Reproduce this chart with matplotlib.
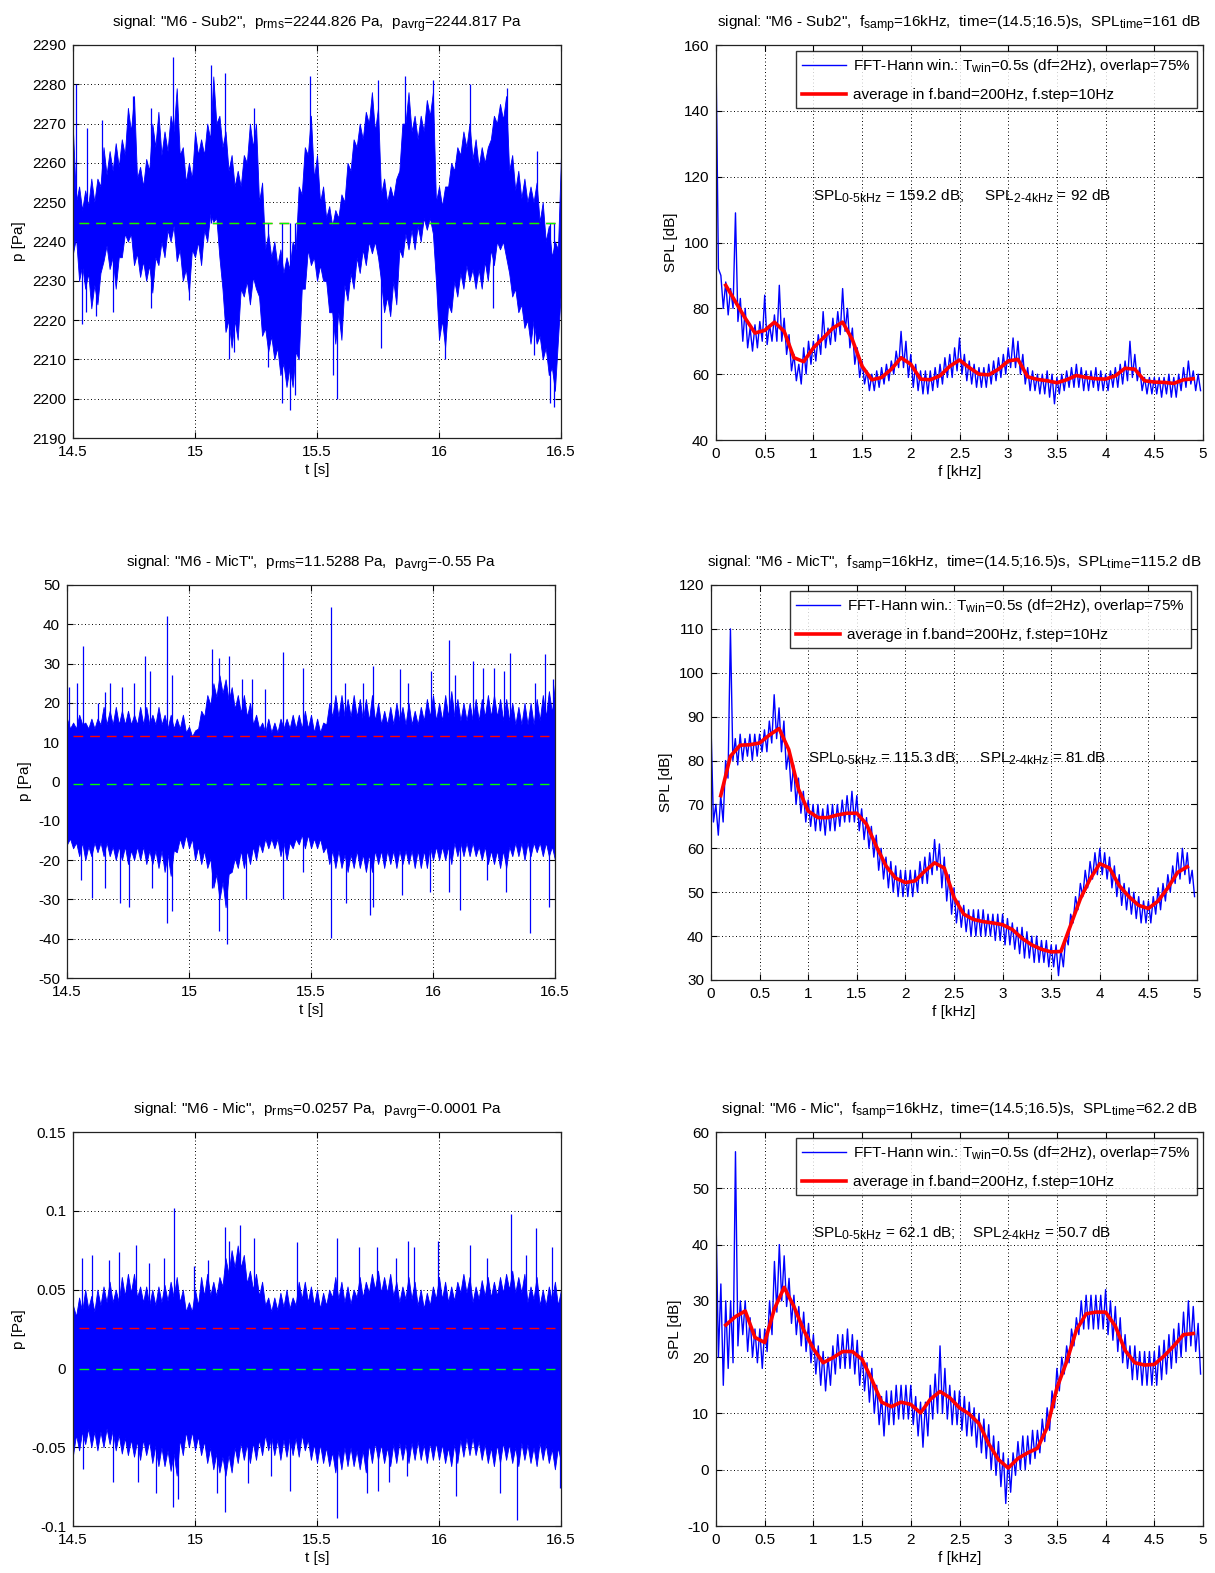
import numpy as np
import matplotlib
matplotlib.use("Agg")
import matplotlib.pyplot as plt
from matplotlib.ticker import FormatStrFormatter

try:
    import matplotlib._mathtext as _mt
    _mt.SHRINK_FACTOR = 0.8   # larger sub/superscripts
except Exception:
    pass

plt.rcParams.update({
    "font.family": ["Liberation Sans", "DejaVu Sans"],
    "font.size": 11,
    "mathtext.fontset": "custom",
    "mathtext.rm": "Liberation Sans",
    "mathtext.it": "Liberation Sans",
    "mathtext.bf": "Liberation Sans:bold",
    "mathtext.default": "regular",
    "axes.unicode_minus": False,
})

# ---------------- time signals ----------------
# peaks / troughs every 25 ms (14.5 .. 16.5 s), valleys in between (at +12.5 ms)
sub2_hi = [
    2268, 2254, 2253, 2256, 2256, 2264, 2263, 2265, 2266, 2274,
    2277, 2259, 2261, 2270, 2273, 2268, 2272, 2279, 2264, 2260,
    2268, 2266, 2270, 2282, 2272, 2268, 2262, 2258, 2262, 2270,
    2270, 2255, 2242, 2240, 2238, 2236, 2240, 2254, 2264, 2272,
    2262, 2254, 2249, 2248, 2252, 2260, 2266, 2270, 2273, 2278,
    2274, 2256, 2254, 2256, 2270, 2278, 2272, 2272, 2276, 2278,
    2254, 2254, 2260, 2264, 2268, 2270, 2266, 2264, 2264, 2272,
    2275, 2277, 2262, 2258, 2256, 2254, 2255, 2250, 2244, 2240,
    2262]
sub2_hi_mid = [
    2250, 2248, 2249, 2250, 2254, 2257, 2258, 2259, 2262, 2268,
    2256, 2254, 2258, 2264, 2262, 2263, 2268, 2262, 2255, 2256,
    2262, 2262, 2266, 2270, 2264, 2258, 2254, 2254, 2260, 2264,
    2250, 2238, 2236, 2234, 2232, 2233, 2238, 2252, 2262, 2256,
    2250, 2246, 2244, 2246, 2250, 2258, 2264, 2266, 2270, 2268,
    2252, 2250, 2251, 2258, 2270, 2268, 2266, 2268, 2272, 2250,
    2249, 2254, 2258, 2262, 2264, 2261, 2259, 2260, 2266, 2270,
    2271, 2258, 2253, 2251, 2250, 2250, 2245, 2240, 2236, 2238]
sub2_lo = [
    2237, 2230, 2228, 2223, 2224, 2235, 2233, 2228, 2236, 2240,
    2234, 2231, 2230, 2227, 2234, 2236, 2240, 2235, 2230, 2227,
    2236, 2234, 2240, 2245, 2236, 2217, 2213, 2215, 2226, 2224,
    2228, 2216, 2212, 2210, 2206, 2203, 2203, 2210, 2228, 2234,
    2230, 2230, 2222, 2214, 2215, 2225, 2228, 2232, 2234, 2237,
    2236, 2222, 2221, 2224, 2236, 2238, 2238, 2240, 2243, 2242,
    2215, 2213, 2222, 2226, 2228, 2230, 2228, 2228, 2230, 2234,
    2238, 2236, 2226, 2222, 2218, 2214, 2214, 2210, 2206, 2202,
    2228]
sub2_lo_mid = [
    2241, 2234, 2232, 2229, 2232, 2239, 2236, 2236, 2242, 2242,
    2237, 2235, 2234, 2236, 2240, 2243, 2244, 2238, 2233, 2238,
    2240, 2243, 2247, 2246, 2228, 2220, 2220, 2228, 2230, 2231,
    2226, 2218, 2216, 2213, 2209, 2208, 2212, 2228, 2238, 2236,
    2234, 2230, 2222, 2222, 2229, 2232, 2236, 2238, 2240, 2240,
    2230, 2226, 2230, 2238, 2242, 2243, 2244, 2246, 2246, 2230,
    2220, 2224, 2230, 2232, 2234, 2233, 2233, 2235, 2238, 2240,
    2240, 2232, 2228, 2224, 2220, 2220, 2216, 2213, 2208, 2215]
sub2_up_t = [14.511, 14.559, 14.618, 14.744, 14.819, 14.908, 15.065, 15.121, 15.241,
             15.470, 15.751, 15.860, 15.977, 16.127, 16.278, 16.401]
sub2_up_v = [2280, 2269, 2271, 2277, 2274, 2287, 2285, 2283, 2274,
             2282, 2281, 2282, 2281, 2280, 2279, 2263]
sub2_dn_t = [14.538, 14.552, 14.593, 14.662, 14.819, 14.977, 15.138, 15.159, 15.299,
             15.358, 15.388, 15.408, 15.566, 15.582, 15.764, 16.025, 16.223, 16.388,
             16.456, 16.470]
sub2_dn_v = [2219, 2222, 2221, 2222, 2223, 2225, 2210, 2212, 2208,
             2199, 2197, 2201, 2206, 2200, 2213, 2210, 2223, 2211,
             2199, 2198]
sub2_rms, sub2_avrg = 2244.826, 2244.817

mict_hi = [
    16, 15, 17, 15, 16, 16, 19, 18, 19, 18,
    18, 17, 19, 19, 17, 19, 17, 17, 16, 17,
    14, 13, 18, 22, 25, 27, 26, 24, 22, 22,
    20, 17, 15, 16, 15, 16, 16, 17, 17, 18,
    17, 16, 15, 20, 22, 22, 21, 22, 21, 21,
    22, 20, 18, 19, 20, 19, 20, 18, 19, 21,
    22, 20, 22, 23, 21, 20, 20, 21, 21, 22,
    22, 21, 21, 20, 19, 20, 20, 21, 22, 23,
    25]
mict_hi_mid = [
    13.5, 13.5, 14.5, 13.5, 13.5, 14.5, 14.5, 14.5, 14.5, 14.5,
    14.5, 14.5, 14.5, 14.5, 14.5, 14.5, 13.5, 13.5, 13.5, 12.5,
    11.5, 13.5, 16.5, 19.5, 21.5, 22.5, 20.5, 18.5, 17.5, 16.5,
    14.5, 13.5, 12.5, 12.5, 12.5, 13.5, 13.5, 13.5, 13.5, 13.5,
    12.5, 12.5, 14.5, 16.5, 16.5, 16.5, 16.5, 16.5, 15.5, 15.5,
    15.5, 14.5, 14.5, 14.5, 15.5, 14.5, 14.5, 14.5, 15.5, 16.5,
    15.5, 15.5, 16.5, 16.5, 15.5, 15.5, 15.5, 15.5, 16.5, 16.5,
    16.5, 15.5, 15.5, 14.5, 14.5, 14.5, 14.5, 15.5, 16.5, 17.5]
mict_lo = [
    -16, -17, -19, -20, -19, -18, -19, -19, -20, -20,
    -21, -20, -20, -21, -21, -22, -23, -24, -18, -17,
    -17, -20, -21, -22, -27, -30, -32, -23, -22, -22,
    -21, -20, -18, -17, -17, -19, -20, -17, -16, -17,
    -17, -17, -18, -21, -22, -22, -23, -22, -22, -23,
    -23, -21, -22, -21, -22, -21, -21, -22, -22, -22,
    -20, -20, -20, -21, -19, -19, -19, -19, -20, -21,
    -21, -22, -22, -19, -19, -20, -19, -18, -19, -19,
    -20]
mict_lo_mid = [
    -14.5, -15.5, -15.5, -16.5, -15.5, -15.5, -15.5, -16.5, -16.5, -16.5,
    -17.5, -16.5, -16.5, -17.5, -17.5, -17.5, -18.5, -17.5, -14.5, -13.5,
    -14.5, -16.5, -17.5, -19.5, -23.5, -25.5, -23.5, -19.5, -17.5, -17.5,
    -16.5, -15.5, -14.5, -14.5, -14.5, -15.5, -15.5, -14.5, -13.5, -13.5,
    -14.5, -14.5, -16.5, -17.5, -17.5, -18.5, -18.5, -17.5, -18.5, -18.5,
    -17.5, -17.5, -17.5, -17.5, -17.5, -17.5, -17.5, -17.5, -17.5, -16.5,
    -16.5, -16.5, -16.5, -15.5, -15.5, -15.5, -15.5, -16.5, -16.5, -17.5,
    -17.5, -17.5, -16.5, -15.5, -15.5, -15.5, -15.5, -15.5, -15.5, -16.5]
mict_up_t = [14.507, 14.541, 14.564, 14.627, 14.655, 14.678, 14.726, 14.774, 14.818,
             14.842, 14.908, 14.932, 15.093, 15.123, 15.164, 15.219, 15.260, 15.312,
             15.384, 15.466, 15.584, 15.639, 15.714, 15.755, 15.866, 15.898, 15.993,
             16.064, 16.089, 16.163, 16.204, 16.252, 16.290, 16.316, 16.416, 16.459,
             16.490]
mict_up_v = [24, 25, 34.5, 20, 22.7, 25, 24, 25, 32,
             28, 42, 27, 33.7, 31.5, 32, 26, 26, 23.5,
             33, 29, 44.4, 25, 25, 29.5, 28.6, 25, 28,
             36, 27, 30.7, 29, 29, 28, 32.8, 25, 32.4,
             26]
mict_dn_t = [14.559, 14.603, 14.655, 14.719, 14.753, 14.849, 14.908, 14.932, 15.096,
             15.123, 15.156, 15.233, 15.384, 15.466, 15.584, 15.643, 15.741, 15.755,
             15.871, 15.986, 16.064, 16.109, 16.222, 16.300, 16.399, 16.474]
mict_dn_v = [-25, -29.6, -27, -31, -32, -27, -36, -33, -27,
             -38, -41.4, -30, -30, -23, -39.7, -31, -34, -32,
             -29, -28, -28, -32.6, -25, -28, -38.5, -32]
mict_rms, mict_avrg = 11.5288, -0.55

mic_hi = [
    0.040, 0.045, 0.050, 0.046, 0.050, 0.052, 0.055, 0.050, 0.058, 0.060,
    0.060, 0.052, 0.052, 0.050, 0.052, 0.053, 0.055, 0.058, 0.050, 0.042,
    0.050, 0.058, 0.060, 0.055, 0.058, 0.070, 0.075, 0.078, 0.072, 0.062,
    0.060, 0.055, 0.045, 0.045, 0.048, 0.050, 0.045, 0.055, 0.055, 0.052,
    0.050, 0.048, 0.050, 0.058, 0.055, 0.052, 0.050, 0.058, 0.055, 0.060,
    0.062, 0.058, 0.060, 0.055, 0.052, 0.058, 0.055, 0.050, 0.048, 0.052,
    0.058, 0.055, 0.052, 0.055, 0.060, 0.058, 0.052, 0.056, 0.058, 0.055,
    0.058, 0.060, 0.062, 0.058, 0.060, 0.052, 0.058, 0.050, 0.052, 0.055,
    0.050]
mic_hi_mid = [
    0.033, 0.036, 0.038, 0.036, 0.040, 0.042, 0.042, 0.042, 0.046, 0.048,
    0.045, 0.042, 0.040, 0.040, 0.042, 0.043, 0.045, 0.042, 0.036, 0.036,
    0.040, 0.046, 0.046, 0.046, 0.052, 0.060, 0.064, 0.064, 0.054, 0.050,
    0.046, 0.040, 0.036, 0.037, 0.039, 0.038, 0.040, 0.044, 0.042, 0.040,
    0.038, 0.040, 0.045, 0.044, 0.042, 0.041, 0.045, 0.045, 0.048, 0.050,
    0.048, 0.048, 0.046, 0.042, 0.044, 0.044, 0.040, 0.038, 0.040, 0.044,
    0.044, 0.042, 0.043, 0.048, 0.048, 0.042, 0.044, 0.046, 0.045, 0.046,
    0.048, 0.050, 0.048, 0.048, 0.042, 0.044, 0.040, 0.040, 0.043, 0.040]
mic_lo = [
    -0.055, -0.052, -0.048, -0.050, -0.052, -0.050, -0.048, -0.052, -0.054, -0.055,
    -0.056, -0.058, -0.055, -0.060, -0.062, -0.062, -0.065, -0.068, -0.055, -0.050,
    -0.052, -0.055, -0.060, -0.064, -0.066, -0.068, -0.066, -0.060, -0.058, -0.060,
    -0.058, -0.055, -0.052, -0.055, -0.058, -0.056, -0.055, -0.056, -0.052, -0.058,
    -0.060, -0.060, -0.062, -0.066, -0.064, -0.062, -0.062, -0.064, -0.066, -0.060,
    -0.058, -0.060, -0.062, -0.060, -0.058, -0.060, -0.058, -0.058, -0.060, -0.058,
    -0.058, -0.060, -0.062, -0.060, -0.056, -0.055, -0.055, -0.058, -0.060, -0.062,
    -0.060, -0.058, -0.060, -0.062, -0.058, -0.060, -0.062, -0.058, -0.060, -0.064,
    -0.060]
mic_lo_mid = [
    -0.042, -0.040, -0.038, -0.040, -0.040, -0.038, -0.039, -0.042, -0.044, -0.045,
    -0.046, -0.045, -0.046, -0.049, -0.050, -0.052, -0.054, -0.045, -0.040, -0.040,
    -0.043, -0.046, -0.050, -0.054, -0.056, -0.055, -0.050, -0.047, -0.048, -0.047,
    -0.045, -0.042, -0.043, -0.045, -0.045, -0.044, -0.044, -0.042, -0.045, -0.048,
    -0.048, -0.050, -0.053, -0.052, -0.050, -0.050, -0.052, -0.052, -0.048, -0.047,
    -0.048, -0.050, -0.048, -0.047, -0.048, -0.047, -0.046, -0.048, -0.047, -0.047,
    -0.048, -0.050, -0.048, -0.045, -0.044, -0.044, -0.046, -0.048, -0.050, -0.048,
    -0.047, -0.048, -0.050, -0.047, -0.048, -0.050, -0.047, -0.048, -0.051, -0.050]
mic_up_t = [14.538, 14.579, 14.648, 14.689, 14.758, 14.812, 14.871, 14.915, 14.995,
            15.052, 15.121, 15.141, 15.186, 15.241, 15.418, 15.584, 15.671, 15.744,
            15.823, 15.871, 15.899, 15.997, 16.125, 16.196, 16.296, 16.358, 16.399,
            16.463]
mic_up_v = [0.070, 0.072, 0.069, 0.074, 0.078, 0.067, 0.070, 0.102, 0.065,
            0.069, 0.090, 0.081, 0.091, 0.083, 0.080, 0.083, 0.077, 0.077,
            0.070, 0.081, 0.077, 0.081, 0.078, 0.070, 0.098, 0.072, 0.089,
            0.077]
mic_dn_t = [14.542, 14.664, 14.768, 14.842, 14.908, 14.929, 15.090, 15.121, 15.216,
            15.312, 15.388, 15.584, 15.705, 15.751, 15.795, 15.867, 16.068, 16.251,
            16.319, 16.495]
mic_dn_v = [-0.064, -0.072, -0.072, -0.079, -0.088, -0.083, -0.079, -0.091, -0.073,
            -0.068, -0.078, -0.095, -0.079, -0.078, -0.072, -0.068, -0.081, -0.079,
            -0.096, -0.076]
mic_rms, mic_avrg = 0.0257, -0.0001

ref_span = [14.525, 16.475]

# ---------------- spectra: FFT band edges (max at f, min at f + 25 Hz), 0 .. 4.95 kHz ----------------
sub2_fft_hi = [
    157, 90, 88, 86, 109, 83, 80, 74, 75, 76,
    84, 75, 78, 87, 77, 72, 66, 63, 68, 70,
    70, 72, 79, 74, 77, 79, 86, 80, 74, 68,
    64, 61, 60, 61, 62, 63, 64, 67, 73, 70,
    66, 63, 61, 61, 61, 62, 63, 65, 66, 68,
    71, 66, 64, 63, 62, 62, 63, 64, 65, 66,
    68, 71, 70, 66, 62, 61, 60, 60, 61, 60,
    59, 60, 61, 62, 63, 62, 61, 61, 62, 61,
    60, 61, 62, 63, 64, 70, 66, 62, 59, 59,
    59, 59, 59, 60, 59, 60, 62, 64, 61, 60]
sub2_fft_lo = [
    92, 80, 78, 80, 76, 70, 68, 67, 68, 70,
    69, 70, 70, 70, 66, 61, 58, 57, 60, 63,
    64, 66, 68, 69, 70, 72, 73, 68, 63, 59,
    57, 55, 55, 56, 57, 58, 60, 62, 62, 59,
    56, 55, 54, 54, 55, 56, 57, 59, 59, 61,
    60, 58, 57, 56, 56, 56, 57, 58, 59, 60,
    62, 62, 60, 57, 55, 55, 54, 54, 53, 51,
    54, 55, 56, 56, 56, 55, 55, 56, 55, 55,
    55, 56, 56, 57, 58, 59, 58, 55, 54, 54,
    54, 53, 54, 53, 53, 55, 56, 57, 55, 55]
mict_fft_hi = [
    88, 70, 72, 80, 110, 85, 86, 85, 86, 86,
    86, 87, 89, 95, 92, 89, 82, 79, 76, 73,
    71, 70, 70, 69, 70, 70, 70, 71, 72, 73,
    72, 69, 67, 65, 63, 60, 58, 57, 56, 55,
    55, 55, 55, 57, 58, 59, 62, 61, 58, 54,
    51, 48, 47, 46, 46, 46, 46, 45, 45, 45,
    45, 44, 43, 42, 42, 41, 40, 40, 39, 39,
    38, 38, 37, 40, 45, 49, 52, 55, 57, 59,
    60, 59, 58, 56, 54, 52, 51, 50, 49, 48,
    48, 49, 51, 52, 54, 56, 59, 60, 59, 55]
mict_fft_lo = [
    66, 63, 66, 76, 80, 79, 80, 81, 80, 81,
    82, 82, 84, 85, 82, 78, 73, 70, 68, 66,
    65, 64, 64, 63, 64, 64, 65, 66, 66, 66,
    64, 62, 60, 58, 55, 53, 51, 50, 49, 49,
    49, 49, 50, 52, 52, 54, 55, 51, 48, 45,
    43, 42, 41, 40, 40, 40, 40, 40, 39, 39,
    38, 38, 37, 36, 35, 35, 34, 34, 34, 33,
    33, 31, 33, 38, 43, 46, 49, 51, 53, 54,
    54, 53, 51, 49, 47, 46, 45, 44, 43, 43,
    43, 45, 46, 48, 50, 52, 53, 54, 52, 49]
mic_fft_hi = [
    45, 33, 30, 30, 56.5, 30, 30, 27, 25, 25,
    25, 30, 37, 40, 38, 34, 31, 29, 28, 26,
    24, 22, 21, 20, 22, 24, 24, 25, 24, 23,
    21, 19, 18, 15, 13, 14, 14, 15, 15, 15,
    15, 13, 12, 12, 15, 17, 22, 18, 15, 14,
    14, 13, 12, 11, 10, 9, 8, 6, 5, 3,
    2, 3, 5, 6, 6, 7, 7, 9, 11, 14,
    18, 20, 22, 25, 27, 30, 31, 31, 31, 31,
    32, 30, 29, 27, 24, 22, 22, 21, 21, 21,
    21, 22, 23, 24, 25, 26, 28, 30, 29, 26]
mic_fft_lo = [
    20, 15, 18, 19, 22, 24, 21, 20, 19, 18,
    21, 24, 28, 30, 29, 26, 24, 22, 21, 19,
    17, 15, 14, 15, 17, 18, 18, 18, 17, 15,
    14, 12, 10, 8, 6, 8, 8, 9, 9, 9,
    8, 6, 4, 6, 9, 10, 10, 9, 8, 8,
    7, 6, 6, 4, 3, 2, 0, -1, -3, -6,
    -4, -1, 0, 0, 1, 2, 3, 5, 7, 11,
    14, 17, 19, 22, 24, 25, 25, 25, 25, 25,
    24, 23, 21, 19, 18, 16, 16, 15, 15, 15,
    15, 16, 17, 18, 19, 20, 21, 22, 21, 17]

# band average, 0.1 .. 4.9 kHz every 100 Hz
sub2_avg = [87.0, 82.0, 77.0, 72.5, 73.3, 75.8, 73.0, 65.0, 63.8, 68.0,
            71.0, 74.0, 75.8, 70.5, 62.4, 58.3, 59.0, 61.5, 65.0, 63.0,
            58.5, 58.3, 59.5, 62.4, 64.3, 62.0, 60.0, 59.8, 61.5, 64.0,
            64.5, 59.2, 58.4, 58.0, 57.4, 58.3, 59.6, 59.0, 58.6, 58.5,
            59.5, 61.8, 61.5, 58.0, 57.6, 57.5, 57.2, 58.3, 58.6]
mict_avg = [72.0, 81.0, 83.5, 83.6, 84.0, 85.8, 87.3, 82.5, 73.5, 68.5,
            67.0, 67.0, 67.6, 68.0, 68.0, 65.5, 60.5, 56.0, 53.2, 52.2,
            52.6, 54.8, 56.7, 55.5, 48.8, 45.0, 43.8, 43.3, 43.0, 42.6,
            41.5, 39.5, 38.0, 37.0, 36.4, 36.5, 42.5, 48.5, 53.0, 56.5,
            55.5, 51.5, 49.0, 47.0, 46.3, 48.0, 51.0, 54.5, 55.8]
mic_avg = [25.7, 27.2, 28.2, 23.5, 22.6, 28.6, 32.4, 29.0, 24.8, 21.5,
           19.0, 19.9, 21.0, 21.0, 19.6, 16.0, 12.0, 11.2, 12.0, 11.6,
           10.1, 12.5, 13.9, 12.8, 11.0, 9.9, 8.2, 4.6, 1.8, 0.3,
           2.0, 3.0, 3.8, 7.5, 14.5, 19.2, 24.8, 27.7, 28.0, 28.0,
           25.5, 21.2, 19.0, 18.6, 18.7, 20.2, 22.0, 24.0, 24.2]

time_ticks = [14.5, 15, 15.5, 16, 16.5]
freq_ticks = [0, 0.5, 1, 1.5, 2, 2.5, 3, 3.5, 4, 4.5, 5]

leg_fft = "FFT-Hann win.: T$_{win}$=0.5s (df=2Hz), overlap=75%"
leg_avg = "average in f.band=200Hz, f.step=10Hz"

W, H = 1215, 1573
fig = plt.figure(figsize=(W / 100, H / 100), dpi=100)
fig.patch.set_facecolor("white")


def frame(x0, y0, x1, y1):
    return fig.add_axes([x0 / W, 1 - y1 / H, (x1 - x0) / W, (y1 - y0) / H])


def matlab_style(ax):
    ax.set_axisbelow(True)
    ax.grid(True, color="k", linestyle=(0, (1, 2.6)), linewidth=0.7)
    ax.tick_params(direction="in", top=True, right=True, length=4, width=0.8,
                   labelsize=11, pad=5)
    for s in ax.spines.values():
        s.set_linewidth(0.9)
        s.set_color("#222222")


def interleave(a, b):
    out = np.empty(len(a) + len(b))
    out[0::2] = a
    out[1::2] = b
    return out


def time_panel(ax, hi, hi_mid, lo, lo_mid, up_t, up_v, dn_t, dn_v,
               p_rms, p_avrg, ylim, yticks, title):
    t = np.linspace(time_ticks[0], time_ticks[-1], len(hi))
    t_mid = t[:-1] + 0.5 * (t[1] - t[0])
    tt = interleave(t, t_mid)
    top = interleave(hi, hi_mid)
    bot = interleave(lo, lo_mid)
    ax.fill_between(tt, bot, top, color="#0000ff", linewidth=0.6, zorder=2)
    ax.vlines(up_t, p_avrg, up_v, color="#0000ff", linewidth=0.9, zorder=2)
    ax.vlines(dn_t, p_avrg, dn_v, color="#0000ff", linewidth=0.9, zorder=2)
    ax.plot(ref_span, [p_rms, p_rms], color="#ff0000", linestyle=(0, (7, 5)), linewidth=1.0, zorder=3)
    ax.plot(ref_span, [p_avrg, p_avrg], color="#00ff00", linestyle=(0, (7, 5)), linewidth=1.0, zorder=3)
    ax.set_xlim(time_ticks[0], time_ticks[-1])
    ax.set_xticks(time_ticks)
    ax.xaxis.set_major_formatter(FormatStrFormatter("%g"))
    ax.set_ylim(*ylim)
    ax.set_yticks(yticks)
    ax.yaxis.set_major_formatter(FormatStrFormatter("%g"))
    ax.set_xlabel("t [s]", labelpad=3)
    ax.set_ylabel("p [Pa]")
    ax.set_title(title, fontsize=11, pad=13)
    matlab_style(ax)


def spectrum_panel(ax, hi, lo, avg, ylim, yticks, title, spl_text, text_y):
    f_hi = np.linspace(0.0, 4.95, len(hi))
    f_lo = f_hi + 0.5 * (f_hi[1] - f_hi[0])
    ax.plot(interleave(f_hi, f_lo), interleave(hi, lo), color="#0000ff",
            linewidth=1.0, label=leg_fft, zorder=2)
    f_avg = np.linspace(0.1, 4.9, len(avg))
    ax.plot(f_avg, avg, color="#ff0000", linewidth=2.6, label=leg_avg, zorder=3)
    ax.set_xlim(0, 5)
    ax.set_xticks(freq_ticks)
    ax.xaxis.set_major_formatter(FormatStrFormatter("%g"))
    ax.set_ylim(*ylim)
    ax.set_yticks(yticks)
    ax.set_xlabel("f [kHz]", labelpad=3)
    ax.set_ylabel("SPL [dB]")
    ax.set_title(title, fontsize=11, pad=13)
    ax.text(1.0, text_y, spl_text, fontsize=11, va="center", ha="left", zorder=4)
    leg = ax.legend(loc="upper right", fontsize=11, frameon=True, fancybox=False,
                    edgecolor="k", handlelength=2.9, handletextpad=0.45,
                    borderpad=0.4, labelspacing=0.85, borderaxespad=0.4)
    leg.get_frame().set_linewidth(1.0)
    leg.set_zorder(5)
    matlab_style(ax)


HY = "\u2010"

ax = frame(73, 45, 561, 438)
time_panel(ax, sub2_hi, sub2_hi_mid, sub2_lo, sub2_lo_mid,
           sub2_up_t, sub2_up_v, sub2_dn_t, sub2_dn_v,
           sub2_rms, sub2_avrg, (2190, 2290), list(range(2190, 2291, 10)),
           'signal: "M6 - Sub2",  p$_{rms}$=2244.826 Pa,  p$_{avrg}$=2244.817 Pa')

ax = frame(716, 45, 1203, 440)
spectrum_panel(ax, sub2_fft_hi, sub2_fft_lo, sub2_avg, (40, 160), list(range(40, 161, 20)),
               'signal: "M6 - Sub2",  f$_{samp}$=16kHz,  time=(14.5;16.5)s,  SPL$_{time}$=161 dB',
               f"SPL$_{{0{HY}5kHz}}$ = 159.2 dB;     SPL$_{{2{HY}4kHz}}$ = 92 dB", 114)

ax = frame(67, 585, 555, 978)
time_panel(ax, mict_hi, mict_hi_mid, mict_lo, mict_lo_mid,
           mict_up_t, mict_up_v, mict_dn_t, mict_dn_v,
           mict_rms, mict_avrg, (-50, 50), list(range(-50, 51, 10)),
           'signal: "M6 - MicT",  p$_{rms}$=11.5288 Pa,  p$_{avrg}$=-0.55 Pa')

ax = frame(711, 585, 1197, 980)
spectrum_panel(ax, mict_fft_hi, mict_fft_lo, mict_avg, (30, 120), list(range(30, 121, 10)),
               'signal: "M6 - MicT",  f$_{samp}$=16kHz,  time=(14.5;16.5)s,  SPL$_{time}$=115.2 dB',
               f"SPL$_{{0{HY}5kHz}}$ = 115.3 dB;     SPL$_{{2{HY}4kHz}}$ = 81 dB", 80.5)

ax = frame(73, 1132, 561, 1526)
time_panel(ax, mic_hi, mic_hi_mid, mic_lo, mic_lo_mid,
           mic_up_t, mic_up_v, mic_dn_t, mic_dn_v,
           mic_rms, mic_avrg, (-0.1, 0.15), [-0.1, -0.05, 0, 0.05, 0.1, 0.15],
           'signal: "M6 - Mic",  p$_{rms}$=0.0257 Pa,  p$_{avrg}$=-0.0001 Pa')

ax = frame(716, 1132, 1203, 1526)
spectrum_panel(ax, mic_fft_hi, mic_fft_lo, mic_avg, (-10, 60), list(range(-10, 61, 10)),
               'signal: "M6 - Mic",  f$_{samp}$=16kHz,  time=(14.5;16.5)s,  SPL$_{time}$=62.2 dB',
               f"SPL$_{{0{HY}5kHz}}$ = 62.1 dB;    SPL$_{{2{HY}4kHz}}$ = 50.7 dB", 42)

fig.savefig("out.png", dpi=100, facecolor="white")
